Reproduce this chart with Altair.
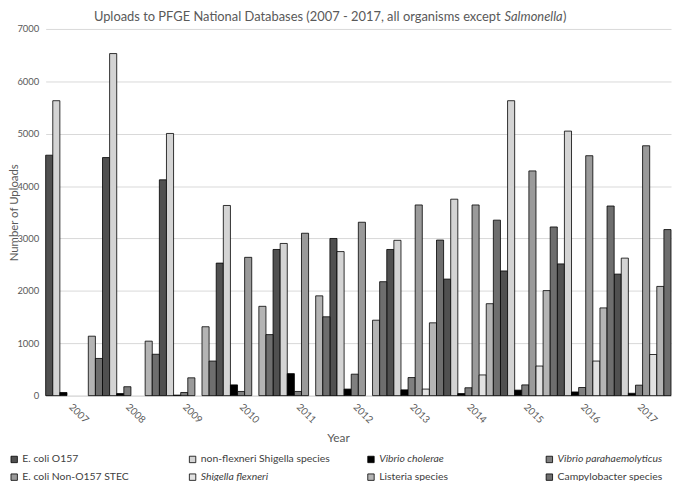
import altair as alt
import pandas as pd

years = [str(y) for y in range(2007, 2018)]
series = [
    "E. coli O157",
    "non-flexneri Shigella species",
    "Vibrio cholerae",
    "Vibrio parahaemolyticus",
    "E. coli Non-O157 STEC",
    "Shigella flexneri",
    "Listeria species",
    "Campylobacter species",
]
ecoli_o157 = [4590, 4545, 4120, 2530, 2790, 3000, 2790, 2225, 2380, 2515, 2320]
nonflex_shigella = [5630, 6530, 5005, 3630, 2905, 2750, 2965, 3750, 5630, 5050, 2625]
vibrio_cholerae = [60, 40, 10, 205, 420, 125, 110, 40, 105, 70, 45]
vibrio_para = [0, 170, 60, 80, 80, 410, 345, 150, 205, 155, 200]
ecoli_stec = [0, 0, 340, 2640, 3100, 3310, 3640, 3640, 4290, 4580, 4770]
shigella_flexneri = [0, 0, 0, 0, 0, 0, 125, 395, 565, 660, 785]
listeria = [1135, 1040, 1315, 1705, 1905, 1440, 1390, 1755, 2005, 1675, 2085]
campylobacter = [710, 790, 660, 1165, 1505, 2175, 2970, 3350, 3220, 3620, 3170]
all_values = [ecoli_o157, nonflex_shigella, vibrio_cholerae, vibrio_para,
              ecoli_stec, shigella_flexneri, listeria, campylobacter]
colors = ["#505050", "#d4d4d4", "#000000", "#7f7f7f",
          "#9a9a9a", "#e2e2e2", "#b4b4b4", "#6e6e6e"]
italic_series = ["Vibrio cholerae", "Vibrio parahaemolyticus", "Shigella flexneri"]

rows = []
for s, vals in zip(series, all_values):
    for y, v in zip(years, vals):
        rows.append({"Year": y, "Series": s, "Uploads": v})
df = pd.DataFrame(rows)

FONT = "Lato"
GRAY = "#595959"

italic_expr = "indexof(" + str(italic_series) + ", datum.label) >= 0 ? 'italic' : 'normal'"

bars = alt.Chart(df).transform_filter("datum.Uploads > 0").mark_bar(
    stroke="black", strokeWidth=0.8
).encode(
    x=alt.X("Year:N", sort=years,
            scale=alt.Scale(paddingInner=0, paddingOuter=0),
            axis=alt.Axis(title="Year", labelAngle=45, labelAlign="left",
                          labelBaseline="top", labelPadding=6, ticks=False,
                          domainColor="#d9d9d9", labelColor=GRAY, labelFontSize=10,
                          labelFont=FONT, titleFont=FONT, titleFontSize=12,
                          titleFontWeight="normal", titleColor=GRAY,
                          titleX=295, titleY=42, titleBaseline="middle")),
    xOffset=alt.XOffset("Series:N", sort=series,
                        scale=alt.Scale(domain=series, paddingInner=0, paddingOuter=0)),
    y=alt.Y("Uploads:Q", scale=alt.Scale(domain=[0, 7000]),
            axis=alt.Axis(title="Number of Uploads", values=list(range(0, 7001, 1000)),
                          format="d", domain=False, ticks=False, gridColor="#d9d9d9",
                          labelPadding=7, labelColor=GRAY, labelFontSize=9.5,
                          labelFont=FONT, titleFont=FONT, titleFontSize=11.5,
                          titleFontWeight="normal", titleColor=GRAY,
                          titleX=-31, titleY=185, titleBaseline="middle")),
    fill=alt.Color("Series:N", sort=series,
                   scale=alt.Scale(domain=series, range=colors),
                   legend=alt.Legend(title=None, orient="none", legendX=-37, legendY=429,
                                     direction="horizontal", columns=4, gridAlign="all",
                                     columnPadding=36, rowPadding=7,
                                     symbolType="square", symbolSize=42,
                                     symbolStrokeColor="black", symbolStrokeWidth=0.8,
                                     labelFont=FONT, labelFontSize=10.5, labelColor="#404040",
                                     labelOffset=3, labelLimit=300,
                                     labelFontStyle={"expr": italic_expr})),
)

title_a = ["Uploads to PFGE National Databases (2007 - 2017, all organisms except"]
title_b = ["Salmonella"]
title_c = [")"]

t1 = alt.Chart(pd.DataFrame({"t": title_a})).mark_text(
    align="right", baseline="top", font=FONT, fontSize=13, color=GRAY
).encode(text="t:N", x=alt.value(459), y=alt.value(-18))
t2 = alt.Chart(pd.DataFrame({"t": title_b})).mark_text(
    align="left", baseline="top", font=FONT, fontSize=13, fontStyle="italic", color=GRAY
).encode(text="t:N", x=alt.value(463), y=alt.value(-18))
t3 = alt.Chart(pd.DataFrame({"t": title_c})).mark_text(
    align="left", baseline="top", font=FONT, fontSize=13, color=GRAY
).encode(text="t:N", x=alt.value(522), y=alt.value(-18))

chart = alt.layer(bars, t1, t2, t3).properties(
    width=631, height=370,
    padding={"left": 38, "top": 19, "right": 1, "bottom": 84},
    autosize=alt.AutoSizeParams(type="none"),
).configure_view(stroke=None)

chart.save("out.html", embed_options={"renderer": "svg", "actions": False})
